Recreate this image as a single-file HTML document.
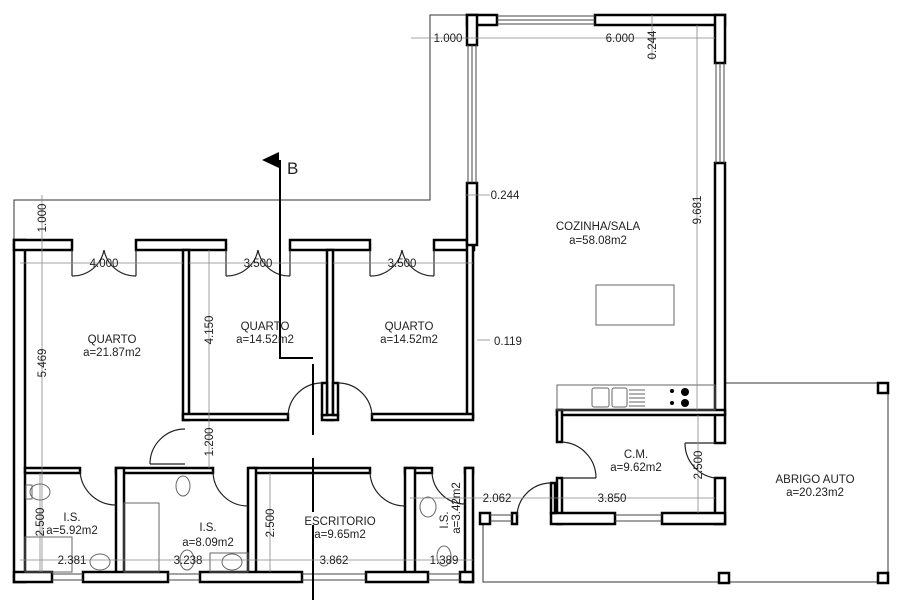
<!DOCTYPE html>
<html><head><meta charset="utf-8"><style>
html,body{margin:0;padding:0;background:#fff;}
svg{display:block;}
text{font-family:"Liberation Sans",sans-serif;fill:#222;}
</style></head><body>
<svg width="900" height="600" viewBox="0 0 900 600" xmlns="http://www.w3.org/2000/svg">
<rect width="900" height="600" fill="#fff"/>
<g stroke="#333" stroke-width="1" fill="none">
<polyline points="14,240 14,200 430,200 430,15 467,15"/>
<polyline points="725,383 888,383 888,582 483,582 483,524"/>
</g>
<g fill="#fff" stroke="#000" stroke-width="2.5">
<rect x="14" y="240" width="11" height="342"/>
<rect x="14" y="240" width="58" height="10"/>
<rect x="136" y="240" width="90" height="10"/>
<rect x="290" y="240" width="80" height="10"/>
<rect x="434" y="240" width="40" height="10"/>
<rect x="183" y="250" width="6" height="170"/>
<rect x="327" y="250" width="6" height="170"/>
<rect x="467" y="240" width="6" height="178"/>
<rect x="183" y="414" width="105" height="6"/>
<rect x="372" y="414" width="101" height="6"/>
<rect x="322" y="415" width="16" height="5"/>
<rect x="25" y="468" width="55" height="5"/>
<rect x="116" y="468" width="97" height="5"/>
<rect x="250" y="468" width="120" height="5"/>
<rect x="405" y="468" width="27" height="5"/>
<rect x="465" y="468" width="8" height="5"/>
<rect x="116" y="468" width="8" height="108"/>
<rect x="248" y="468" width="8" height="108"/>
<rect x="405" y="468" width="10" height="108"/>
<rect x="465" y="468" width="8" height="114"/>
<rect x="14" y="572" width="38" height="10"/>
<rect x="83" y="572" width="85" height="10"/>
<rect x="200" y="572" width="102" height="10"/>
<rect x="366" y="572" width="62" height="10"/>
<rect x="460" y="572" width="13" height="10"/>
<rect x="467" y="15" width="30" height="10"/>
<rect x="467" y="15" width="10" height="30"/>
<rect x="467" y="183" width="10" height="62"/>
<rect x="595" y="15" width="130" height="10"/>
<rect x="715" y="15" width="10" height="48"/>
<rect x="715" y="163" width="10" height="280"/>
<rect x="715" y="478" width="10" height="46"/>
<rect x="557" y="410" width="168" height="5"/>
<rect x="557" y="410" width="5" height="32"/>
<rect x="557" y="478" width="5" height="46"/>
<rect x="551" y="513" width="64" height="11"/>
<rect x="662" y="513" width="63" height="11"/>
<rect x="480" y="513" width="10" height="11"/>
<rect x="512" y="513" width="5" height="11"/>
<rect x="322" y="383" width="5" height="32"/>
<rect x="333" y="383" width="5" height="32"/>
<rect x="551" y="483" width="4" height="30"/>
<rect x="878" y="383" width="10" height="10"/>
<rect x="719" y="573" width="10" height="10"/>
<rect x="878" y="573" width="10" height="10"/>
</g>
<g stroke="#444" stroke-width="1" fill="none">
<line x1="497" y1="16" x2="595" y2="16"/><line x1="497" y1="20" x2="595" y2="20"/><line x1="497" y1="24" x2="595" y2="24"/>
<line x1="468" y1="45" x2="468" y2="183"/><line x1="472" y1="45" x2="472" y2="183"/><line x1="476" y1="45" x2="476" y2="183"/>
<line x1="716" y1="63" x2="716" y2="163"/><line x1="720" y1="63" x2="720" y2="163"/><line x1="724" y1="63" x2="724" y2="163"/>
<line x1="52" y1="574" x2="83" y2="574"/><line x1="52" y1="580" x2="83" y2="580"/>
<line x1="168" y1="574" x2="200" y2="574"/><line x1="168" y1="580" x2="200" y2="580"/>
<line x1="302" y1="574" x2="366" y2="574"/><line x1="302" y1="580" x2="366" y2="580"/>
<line x1="428" y1="574" x2="460" y2="574"/><line x1="428" y1="580" x2="460" y2="580"/>
<line x1="615" y1="515" x2="662" y2="515"/><line x1="615" y1="521" x2="662" y2="521"/>
<line x1="490" y1="515" x2="512" y2="515"/><line x1="490" y1="521" x2="512" y2="521"/>
</g>
<g stroke="#222" stroke-width="1.2" fill="none">
<path d="M72 250 L72 276 M136 250 L136 276 M72 276 A32 32 0 0 0 104 250 M136 276 A32 32 0 0 1 104 250"/>
<path d="M226 250 L226 276 M290 250 L290 276 M226 276 A32 32 0 0 0 258 250 M290 276 A32 32 0 0 1 258 250"/>
<path d="M370 250 L370 276 M434 250 L434 276 M370 276 A32 32 0 0 0 402 250 M434 276 A32 32 0 0 1 402 250"/>
<path d="M288 417 A34 34 0 0 1 322 383"/>
<path d="M372 417 A34 34 0 0 0 338 383"/>
<path d="M150 464 L185 464 M150 464 A35 35 0 0 1 185 429"/>
<path d="M80 471 A36 36 0 0 0 116 505"/>
<path d="M213 471 A35 35 0 0 0 248 506"/>
<path d="M370 471 A35 35 0 0 0 405 506"/>
<path d="M432 471 A33 33 0 0 0 465 504"/>
<path d="M562 478 L596 478 M562 442 A36 36 0 0 1 596 478"/>
<path d="M715 443 L685 443 M685 443 A35 35 0 0 0 715 478"/>
<path d="M517 516 A34 34 0 0 1 551 483"/>
</g>
<g stroke="#000" stroke-width="2" fill="none">
<polyline points="280,160 280,358 313,358"/>
<line x1="313" y1="364" x2="313" y2="435"/>
<line x1="313" y1="458" x2="313" y2="512"/>
<line x1="313" y1="525" x2="313" y2="600"/>
</g>
<polygon points="262,160 279,152 279,168" fill="#000"/>
<text x="287" y="174" font-size="17">B</text>
<g stroke="#666" stroke-width="1" fill="none">
<rect x="557" y="385" width="158" height="25"/>
<rect x="592" y="388" width="17" height="19" rx="2"/><rect x="612" y="388" width="15" height="19" rx="2"/>
<path d="M629 390h16M629 394h16M629 398h16M629 402h16M629 406h16"/>
<rect x="596" y="285" width="78" height="40"/>
<rect x="25" y="537" width="47" height="35"/>
<rect x="124" y="503" width="35" height="69"/>
<rect x="210" y="553" width="38" height="19"/>
<ellipse cx="40" cy="492" rx="10" ry="8"/><rect x="26" y="485" width="6" height="14"/>
<ellipse cx="183" cy="486" rx="7" ry="10"/>
<ellipse cx="100" cy="562" rx="10" ry="8"/>
<ellipse cx="232" cy="562" rx="10" ry="8"/>
<ellipse cx="187" cy="560" rx="7" ry="10"/>
<ellipse cx="428" cy="507" rx="8" ry="10"/>
<ellipse cx="444" cy="556" rx="7" ry="10"/>
</g>
<g fill="#000"><circle cx="672" cy="391" r="2"/><circle cx="685" cy="392" r="4"/><circle cx="672" cy="403" r="2"/><circle cx="685" cy="403" r="4"/></g>
<g stroke="#888" stroke-width="0.8" fill="none">
<line x1="20" y1="263" x2="183" y2="263"/>
<line x1="189" y1="263" x2="327" y2="263"/>
<line x1="333" y1="263" x2="473" y2="263"/>
<line x1="42" y1="195" x2="42" y2="572"/>
<line x1="209" y1="250" x2="209" y2="468"/>
<line x1="411" y1="38" x2="715" y2="38"/>
<line x1="652" y1="15" x2="652" y2="60"/>
<line x1="697" y1="25" x2="697" y2="410"/>
<line x1="465" y1="195" x2="490" y2="195"/>
<line x1="477" y1="340" x2="490" y2="340"/>
<line x1="20" y1="560" x2="473" y2="560"/>
<line x1="270" y1="473" x2="270" y2="572"/>
<line x1="40" y1="473" x2="40" y2="572"/>
<line x1="410" y1="498" x2="715" y2="498"/>
<line x1="698" y1="415" x2="698" y2="513"/>
</g>
<g font-size="11.5" text-anchor="middle">
<text x="104" y="267">4.000</text>
<text x="258" y="267">3.500</text>
<text x="402" y="267">3.500</text>
<text x="112" y="343">QUARTO</text><text x="112" y="356">a=21.87m2</text>
<text x="265" y="330">QUARTO</text><text x="265" y="343">a=14.52m2</text>
<text x="409" y="330">QUARTO</text><text x="409" y="343">a=14.52m2</text>
<text x="598" y="230">COZINHA/SALA</text><text x="598" y="244">a=58.08m2</text>
<text x="636" y="458">C.M.</text><text x="636" y="471">a=9.62m2</text>
<text x="815" y="483">ABRIGO  AUTO</text><text x="815" y="496">a=20.23m2</text>
<text x="340" y="525">ESCRITORIO</text><text x="340" y="538">a=9.65m2</text>
<text x="72" y="521">I.S.</text><text x="72" y="534">a=5.92m2</text>
<text x="208" y="531">I.S.</text><text x="208" y="546">a=8.09m2</text>
<text x="620" y="42">6.000</text>
<text x="448" y="42">1.000</text>
<text x="505" y="199">0.244</text>
<text x="508" y="345">0.119</text>
<text x="72" y="564">2.381</text>
<text x="188" y="564">3.238</text>
<text x="334" y="564">3.862</text>
<text x="444" y="564">1.389</text>
<text x="612" y="502">3.850</text>
<text x="497" y="502">2.062</text>
<text transform="translate(46,218) rotate(-90)">1.000</text>
<text transform="translate(46,363) rotate(-90)">5.469</text>
<text transform="translate(213,330) rotate(-90)">4.150</text>
<text transform="translate(213,442) rotate(-90)">1.200</text>
<text transform="translate(656,45) rotate(-90)">0.244</text>
<text transform="translate(701,210) rotate(-90)">9.681</text>
<text transform="translate(44,522) rotate(-90)">2.500</text>
<text transform="translate(274,523) rotate(-90)">2.500</text>
<text transform="translate(702,465) rotate(-90)">2.500</text>
<text transform="translate(448,520) rotate(-90)">I.S.</text>
<text transform="translate(460,508) rotate(-90)">a=3.42m2</text>
</g>
</svg>
</body></html>
